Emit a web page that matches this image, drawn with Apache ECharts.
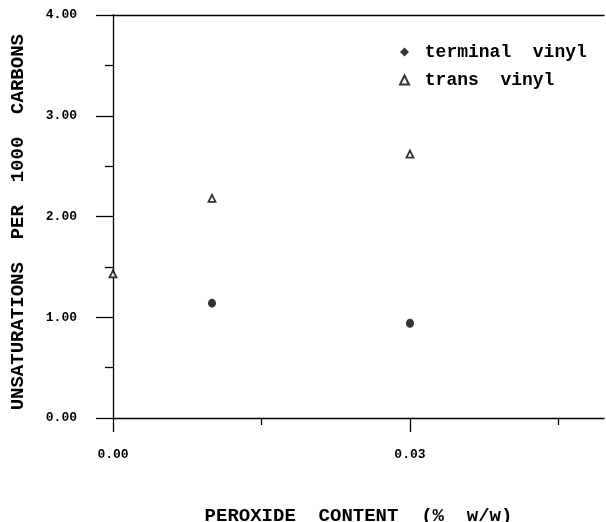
<!DOCTYPE html>
<html>
<head>
<meta charset="utf-8">
<script src="https://cdn.jsdelivr.net/npm/echarts@6/dist/echarts.min.js"></script>
<style>html,body{margin:0;padding:0;background:#fff}#c{width:606px;height:522px}</style>
</head>
<body>
<div id="c"></div>
<script>
// ---- data ----
const seriesNames = ['terminal vinyl', 'trans vinyl'];
const terminalX = [0.01, 0.03];
const terminalY = [1.14, 0.94];
const transX = [0.00, 0.01, 0.03];
const transY = [1.43, 2.18, 2.62];
const xMajorTicks = [0, 0.03];
const xMinorTicks = [0.015, 0.045];
const yTickLabels = ['0.00', '1.00', '2.00', '3.00', '4.00'];
const xTitle = 'PEROXIDE  CONTENT  (%  w/w)';
const yTitle = 'UNSATURATIONS  PER  1000  CARBONS ';

const FONT = '"Liberation Mono", "DejaVu Sans Mono", monospace';
const chart = echarts.init(document.getElementById('c'));
const lineStyle = { color: '#000', width: 1.3 };
const X_MAX = 0.0496;
chart.setOption({
  animation: false,
  backgroundColor: '#fff',
  grid: { left: 113, right: 2, top: 15, bottom: 104, containLabel: false, outerBoundsMode: 'none' },
  legend: {
    orient: 'vertical',
    left: 394, top: 38,
    itemWidth: 9, itemHeight: 9, itemGap: 10,
    textStyle: { fontFamily: FONT, fontWeight: 'bold', fontSize: 18, color: '#000' },
    data: [
      { name: seriesNames[0], icon: 'diamond' },
      { name: seriesNames[1], icon: 'triangle' }
    ],
    formatter: n => ' ' + n.replace(' ', '  ')
  },
  xAxis: [
    {
      type: 'value', position: 'bottom', min: 0, max: X_MAX,
      name: xTitle, nameLocation: 'middle', nameGap: 89,
      nameTextStyle: { fontFamily: FONT, fontWeight: 'bold', fontSize: 19, color: '#000' },
      axisLine: { show: true, lineStyle },
      axisTick: { show: true, length: 14, lineStyle, customValues: xMajorTicks },
      axisLabel: { show: true, margin: 30, customValues: xMajorTicks,
        formatter: v => v.toFixed(2),
        fontFamily: FONT, fontWeight: 'bold', fontSize: 13, color: '#000' },
      splitLine: { show: false }
    },
    {
      type: 'value', position: 'bottom', min: 0, max: X_MAX,
      axisLine: { show: false },
      axisTick: { show: true, length: 7, lineStyle, customValues: xMinorTicks },
      axisLabel: { show: false },
      splitLine: { show: false }
    },
    {
      type: 'value', position: 'top', min: 0, max: X_MAX,
      axisLine: { show: true, lineStyle },
      axisTick: { show: false },
      axisLabel: { show: false },
      splitLine: { show: false }
    }
  ],
  yAxis: {
    type: 'value', min: 0, max: 4, interval: 1,
    name: yTitle, nameLocation: 'middle', nameGap: 85,
    nameTextStyle: { fontFamily: FONT, fontWeight: 'bold', fontSize: 19, color: '#000' },
    axisLine: { show: true, lineStyle },
    axisTick: { show: true, length: 17, lineStyle },
    minorTick: { show: true, splitNumber: 2, length: 8, lineStyle },
    axisLabel: { margin: 36, formatter: v => yTickLabels[Math.round(v)],
      fontFamily: FONT, fontWeight: 'bold', fontSize: 13, color: '#000' },
    splitLine: { show: false }
  },
  series: [
    {
      name: seriesNames[0], type: 'scatter', xAxisIndex: 0,
      symbol: 'circle', symbolSize: [8, 9],
      itemStyle: { color: '#000' },
      data: terminalX.map((x, i) => [x, terminalY[i]])
    },
    {
      name: seriesNames[1], type: 'scatter', xAxisIndex: 0,
      symbol: 'triangle', symbolSize: 7,
      itemStyle: { color: '#fff', borderColor: '#000', borderWidth: 1.8 },
      data: transX.map((x, i) => [x, transY[i]])
    }
  ]
});
</script>
</body>
</html>
